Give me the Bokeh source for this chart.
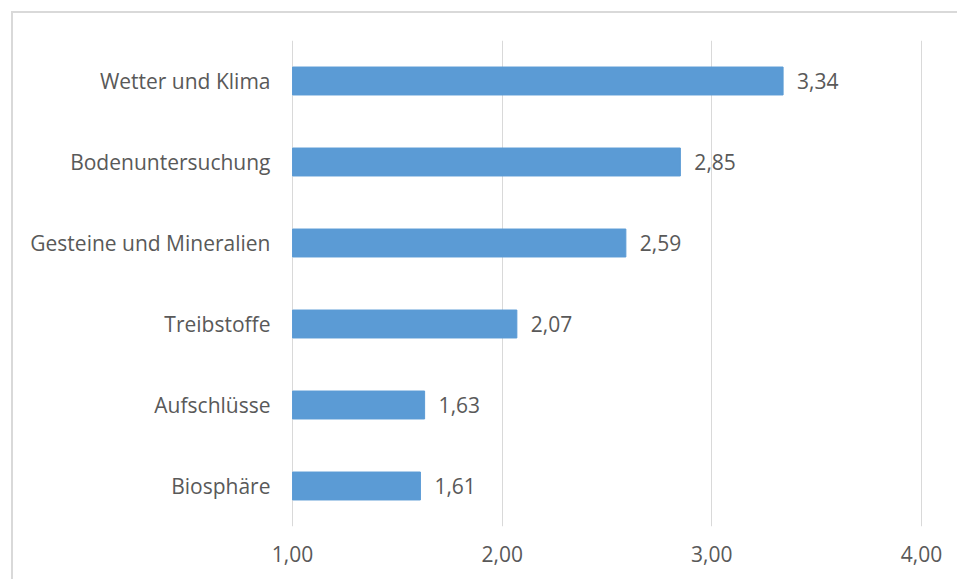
from bokeh.plotting import figure
from bokeh.models import ColumnDataSource, FactorRange, Range1d, FixedTicker
from bokeh.core.properties import value
from bokeh.embed import file_html
from bokeh.resources import INLINE

categories = ["Wetter und Klima", "Bodenuntersuchung", "Gesteine und Mineralien",
              "Treibstoffe", "Aufschlüsse", "Biosphäre"]
values = [3.34, 2.85, 2.59, 2.07, 1.63, 1.61]
x_ticks = [1, 2, 3, 4]
x_tick_labels = ["1,00", "2,00", "3,00", "4,00"]

FONT = "Open Sans"
GREY = "#595959"
PAD = 0.005

src = ColumnDataSource(dict(
    cat=categories,
    val=values,
    base=[1.0] * len(values),
    lab=[f"{v:.2f}".replace(".", ",") for v in values],
))

p = figure(
    width=946, height=568,
    y_range=FactorRange(factors=list(reversed(categories))),
    x_range=Range1d(x_ticks[0] - PAD, x_ticks[-1] + PAD),
    output_backend="svg", toolbar_location=None,
    min_border_left=278, min_border_right=37, min_border_top=27, min_border_bottom=55,
    styles={"margin-left": "11px", "margin-top": "11px",
            "border-left": "2px solid #D9D9D9", "border-top": "2px solid #D9D9D9"},
)
p.outline_line_color = None
p.background_fill_color = "white"
p.border_fill_color = "white"

p.hbar(y="cat", left="base", right="val", height=0.345, source=src,
       fill_color="#5B9BD5", line_color="#5B9BD5")
p.text(x="val", y="cat", text="lab", source=src, x_offset=14,
       text_align="left", text_baseline="middle", text_font=value(FONT),
       text_font_size="21px", text_color=GREY)

p.xaxis.ticker = FixedTicker(ticks=x_ticks)
p.xaxis.major_label_overrides = {t: l for t, l in zip(x_ticks, x_tick_labels)}
p.xaxis.axis_line_color = None
p.xaxis.major_tick_line_color = None
p.xaxis.minor_tick_line_color = None
p.xaxis.major_label_text_font = FONT
p.xaxis.major_label_text_font_size = "21px"
p.xaxis.major_label_text_color = GREY
p.xaxis.major_label_standoff = 13

p.yaxis.axis_line_color = None
p.yaxis.major_tick_line_color = None
p.yaxis.major_label_text_font = FONT
p.yaxis.major_label_text_font_size = "21px"
p.yaxis.major_label_text_color = GREY
p.yaxis.major_label_standoff = 15

p.xgrid.grid_line_color = "#D9D9D9"
p.xgrid.grid_line_width = 1
p.ygrid.grid_line_color = None

open("out.html", "w").write(file_html(p, INLINE))
